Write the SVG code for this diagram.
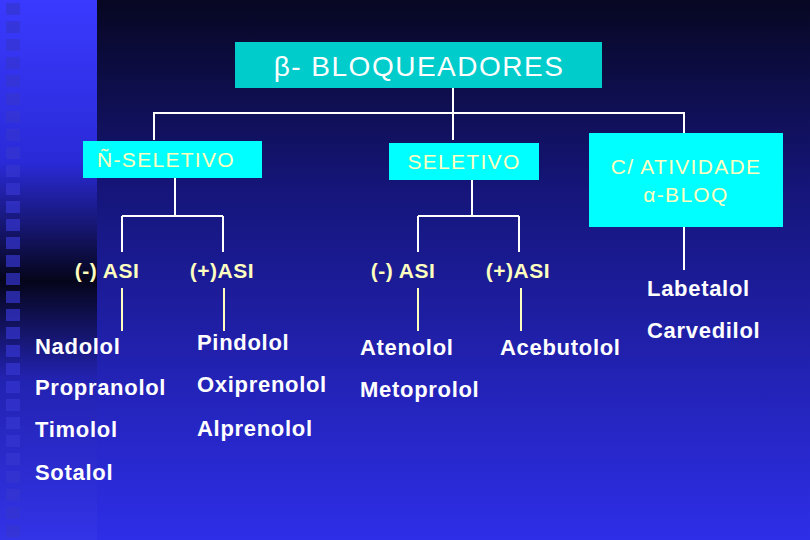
<svg xmlns="http://www.w3.org/2000/svg" width="810" height="540" viewBox="0 0 810 540">
<defs>
<linearGradient id="bg" x1="0" y1="0" x2="0" y2="1"><stop offset="0" stop-color="#070722"/><stop offset="0.35" stop-color="#15157a"/><stop offset="1" stop-color="#2e2ee8"/></linearGradient>
<linearGradient id="side" x1="0" y1="0" x2="0" y2="1"><stop offset="0" stop-color="#3a3aff"/><stop offset="0.3" stop-color="#2a2ad8"/><stop offset="0.52" stop-color="#05051a"/><stop offset="0.7" stop-color="#2222b0"/><stop offset="1" stop-color="#3333e8"/></linearGradient>
<pattern id="sq" width="20" height="18" patternUnits="userSpaceOnUse"><rect x="6" y="3" width="14" height="12" fill="#3535d0" opacity="0.7"/></pattern>
</defs>
<style>
.b{fill:#00ffff}
.t{font-family:"Liberation Sans",Arial,sans-serif;font-size:21px;letter-spacing:1.3px;fill:#ffffc0;text-anchor:middle}
.a{font-weight:bold;letter-spacing:0.5px}
.w{font-family:"Liberation Sans",Arial,sans-serif;font-size:22px;font-weight:bold;letter-spacing:0.7px;fill:#ffffff}
.c line{stroke:#ffffff;stroke-width:2}
.y line{stroke:#ffffc0;stroke-width:2}
</style>
<rect width="810" height="540" fill="url(#bg)"/>
<rect width="97" height="540" fill="url(#side)"/>
<rect width="20" height="540" fill="url(#sq)"/>
<g class="c" id="connectors">
<line x1="453" y1="88" x2="453" y2="140"/>
<line x1="154" y1="113" x2="684" y2="113"/>
<line x1="154" y1="112" x2="154" y2="140"/>
<line x1="684" y1="112" x2="684" y2="137"/>
<line x1="175" y1="178" x2="175" y2="216"/>
<line x1="122" y1="216" x2="223" y2="216"/>
<line x1="122" y1="216" x2="122" y2="252"/>
<line x1="223" y1="216" x2="223" y2="252"/>
<line x1="472" y1="180" x2="472" y2="216"/>
<line x1="418" y1="216" x2="519" y2="216"/>
<line x1="418" y1="216" x2="418" y2="252"/>
<line x1="519" y1="216" x2="519" y2="252"/>
<line x1="684" y1="227" x2="684" y2="270"/>
</g>
<g class="y" id="connectors2">
<line x1="122" y1="288" x2="122" y2="331"/>
<line x1="224" y1="288" x2="224" y2="331"/>
<line x1="418" y1="288" x2="418" y2="331"/>
<line x1="521" y1="288" x2="521" y2="331"/>
</g>
<g id="root"><rect x="235" y="42" width="367" height="46" fill="#00cccc"/><text x="419" y="76" style="font-family:'Liberation Sans',Arial,sans-serif;font-size:28px;letter-spacing:1.5px;fill:#fff" text-anchor="middle">β- BLOQUEADORES</text></g>
<g id="nsel"><rect x="83" y="141" width="179" height="37" class="b"/><text x="166" y="167" class="t">Ñ-SELETIVO</text></g>
<g id="sel"><rect x="389" y="143" width="150" height="37" class="b"/><text x="464" y="169" class="t">SELETIVO</text></g>
<g id="alfa"><rect x="589" y="133" width="194" height="94" class="b"/><text x="686" y="174" class="t">C/ ATIVIDADE</text><text x="686" y="202" class="t">α-BLOQ</text></g>
<g id="asi1"><text x="107" y="278" class="t a">(-) ASI</text></g>
<g id="asi2"><text x="222" y="278" class="t a">(+)ASI</text></g>
<g id="asi3"><text x="403" y="278" class="t a">(-) ASI</text></g>
<g id="asi4"><text x="518" y="278" class="t a">(+)ASI</text></g>
<g id="drugs">
<text x="35" y="354" class="w">Nadolol</text>
<text x="35" y="395" class="w">Propranolol</text>
<text x="35" y="437" class="w">Timolol</text>
<text x="35" y="480" class="w">Sotalol</text>
<text x="197" y="350" class="w">Pindolol</text>
<text x="197" y="392" class="w">Oxiprenolol</text>
<text x="197" y="436" class="w">Alprenolol</text>
<text x="360" y="355" class="w">Atenolol</text>
<text x="360" y="397" class="w">Metoprolol</text>
<text x="500" y="355" class="w">Acebutolol</text>
<text x="647" y="296" class="w">Labetalol</text>
<text x="647" y="338" class="w">Carvedilol</text>
</g>
</svg>
